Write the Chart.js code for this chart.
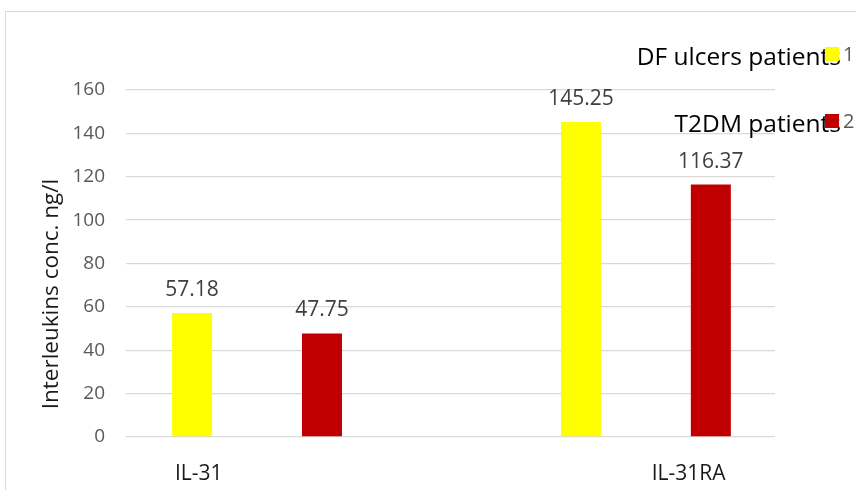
<!DOCTYPE html>
<html>
<head>
<meta charset="utf-8">
<script src="https://cdn.jsdelivr.net/npm/chart.js@4"></script>
<style>
  body { margin: 0; background: #fff; overflow: hidden; }
  #frame { position: absolute; left: 5px; top: 11px; width: 900px; height: 500px; border: 1px solid #d9d9d9; }
  #chart { position: absolute; left: 6px; top: 12px; }
</style>
</head>
<body>
<div id="frame"></div>
<canvas id="chart" width="850" height="478" style="width:850px;height:478px"></canvas>
<script>
const categories = ['IL-31', 'IL-31RA'];
const seriesNames = ['1', '2'];
const seriesNotes = ['DF ulcers patients', 'T2DM patients'];
const dfUlcers = [57.18, 145.25];
const t2dm = [47.75, 116.37];
const yTicks = [0, 20, 40, 60, 80, 100, 120, 140, 160];

const FONT = "'Open Sans', 'Noto Sans', sans-serif";

function points(values) {
    return values.map((v, i) => ({ x: i, y: v }));
}

// value labels above the bars
const valueLabels = {
    id: 'valueLabels',
    afterDatasetsDraw(chart) {
        const ctx = chart.ctx;
        ctx.save();
        ctx.font = '21px ' + FONT;
        ctx.fillStyle = '#404040';
        ctx.textAlign = 'center';
        ctx.textBaseline = 'middle';
        chart.data.datasets.forEach((ds, di) => {
            chart.getDatasetMeta(di).data.forEach((bar, i) => {
                ctx.fillText(ds.data[i].y.toFixed(2), bar.x, bar.y - 23);
            });
        });
        ctx.restore();
    }
};

// y title and the overlapping legend block
const extras = {
    id: 'extras',
    afterDraw(chart) {
        const ctx = chart.ctx;
        ctx.save();
        ctx.translate(46, 282);
        ctx.rotate(-Math.PI / 2);
        ctx.font = '22.5px ' + FONT;
        ctx.fillStyle = '#1a1a1a';
        ctx.textAlign = 'center';
        ctx.textBaseline = 'middle';
        ctx.fillText('Interleukins conc. ng/l', 0, 0);
        ctx.restore();

        ctx.save();
        chart.data.datasets.forEach((ds, i) => {
            const top = 35 + i * 67;
            ctx.font = '24.5px ' + FONT;
            ctx.fillStyle = '#000';
            ctx.textAlign = 'right';
            ctx.textBaseline = 'middle';
            ctx.fillText(seriesNotes[i], 835, top + 11);
            ctx.fillStyle = ds.backgroundColor;
            ctx.fillRect(819, top, 14, 14);
            ctx.font = '20px ' + FONT;
            ctx.fillStyle = '#595959';
            ctx.textAlign = 'left';
            ctx.fillText(ds.label, 837, top + 8);
        });
        ctx.restore();
    }
};

new Chart(document.getElementById('chart'), {
    type: 'bar',
    data: {
        datasets: [
            { label: seriesNames[0], data: points(dfUlcers), backgroundColor: '#FFFF00' },
            { label: seriesNames[1], data: points(t2dm), backgroundColor: '#C00000' }
        ]
    },
    options: {
        responsive: false,
        animation: false,
        devicePixelRatio: 1,
        categoryPercentage: 0.668,
        barPercentage: 0.308,
        layout: { padding: { top: 78, right: 81, bottom: 0, left: 0 } },
        plugins: { legend: { display: false }, tooltip: { enabled: false } },
        scales: {
            x: {
                type: 'linear',
                min: -0.337,
                max: 1.332,
                offset: false,
                grid: { display: false, offset: false },
                border: { display: false },
                afterBuildTicks: scale => {
                    scale.ticks = [-0.15, 1.11].map(v => ({ value: v }));
                },
                afterFit: scale => { scale.height = 53; },
                ticks: {
                    autoSkip: false,
                    maxRotation: 0,
                    padding: 16,
                    color: '#1a1a1a',
                    font: { family: FONT, size: 21 },
                    callback: (v, i) => categories[i]
                }
            },
            y: {
                min: 0,
                max: 160,
                afterBuildTicks: scale => {
                    scale.ticks = yTicks.map(v => ({ value: v }));
                },
                afterFit: scale => { scale.width = 120; },
                grid: { color: '#d9d9d9', lineWidth: 1.3, drawTicks: false },
                border: { display: false },
                ticks: {
                    padding: 21,
                    color: '#595959',
                    font: { family: FONT, size: 19 }
                }
            }
        }
    },
    plugins: [valueLabels, extras]
});
</script>
</body>
</html>
